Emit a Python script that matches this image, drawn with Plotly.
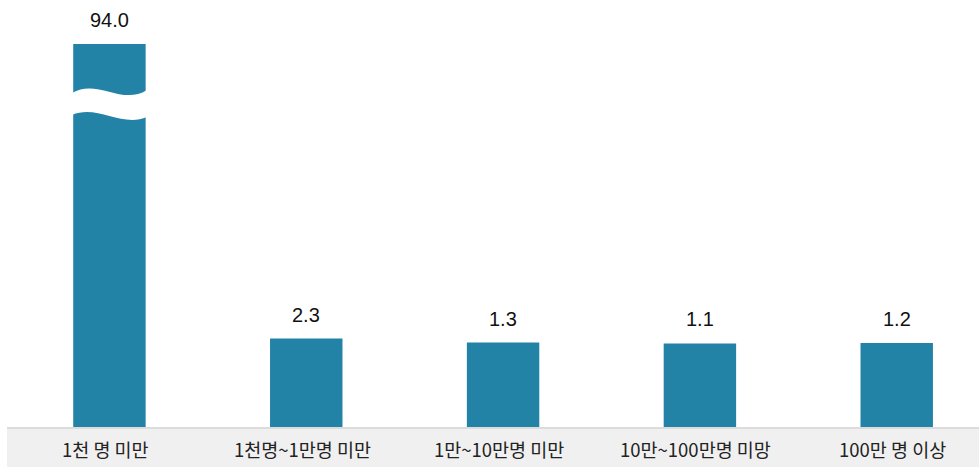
import plotly.graph_objects as go

# ---- data ----
categories = ["1천 명 미만", "1천명~1만명 미만", "1만~10만명 미만", "10만~100만명 미망", "100만 명 이상"]
values = [94.0, 2.3, 1.3, 1.1, 1.2]
value_labels = ["94.0", "2.3", "1.3", "1.1", "1.2"]

# ---- layout constants ----
W, H = 979, 467
M_T, M_B = 44, 40
Y_MIN, Y_MAX = -19.8, 75.95          # axis floor below zero (offset axis); tall bar is clipped (broken)
X_MIN, X_MAX = -0.556, 4.418
BAR_W = 0.368
BAR_COLOR = "#2383a7"

PLOT_H = H - M_T - M_B
x_pos = list(range(len(categories)))

def px2x(px):
    return X_MIN + px / W * (X_MAX - X_MIN)

def py2y(py):
    return Y_MIN + (H - M_B - py) / PLOT_H * (Y_MAX - Y_MIN)

fig = go.Figure()
# bars rise from the axis floor up to their value
fig.add_trace(go.Bar(
    x=x_pos,
    y=[v - Y_MIN for v in values],
    base=Y_MIN,
    width=BAR_W,
    marker=dict(color=BAR_COLOR, line=dict(width=0)),
    customdata=values,
    hovertemplate="%{customdata}<extra></extra>",
))

annotations = []
for i, (v, t) in enumerate(zip(values, value_labels)):
    annotations.append(dict(
        x=i, y=min(v, Y_MAX), xref="x", yref="y", text=t, showarrow=False,
        yanchor="bottom", yshift=11,
        font=dict(family="Liberation Sans, Arial, sans-serif", size=20, color="#111111"),
    ))
for i, c in enumerate(categories):
    annotations.append(dict(
        x=i, y=-(449 - (H - M_B)) / PLOT_H, xref="x", yref="paper", text=c, showarrow=False,
        yanchor="middle", xshift=-4,
        font=dict(family="Noto Sans CJK KR, sans-serif", size=18.5, color="#222222"),
    ))

# axis break symbol (white wave) across the clipped first bar
x0, x1 = px2x(72), px2x(147)
xc1, xc2 = px2x(97), px2x(122)
up = [py2y(93), py2y(78), py2y(106), py2y(90)]
lo = [py2y(115), py2y(104), py2y(128), py2y(117)]
wave = (f"M {x0},{up[0]} C {xc1},{up[1]} {xc2},{up[2]} {x1},{up[3]} "
        f"L {x1},{lo[3]} C {xc2},{lo[2]} {xc1},{lo[1]} {x0},{lo[0]} Z")

shapes = [
    dict(type="rect", xref="paper", yref="paper", x0=7 / W, x1=1, y0=-M_B / PLOT_H - 0.01, y1=0,
         fillcolor="#f0f0f0", line=dict(width=0), layer="below"),
    dict(type="line", xref="paper", yref="paper", x0=7 / W, x1=1, y0=-1.0 / PLOT_H, y1=-1.0 / PLOT_H,
         line=dict(color="#c8c8c8", width=1.2)),
    dict(type="path", xref="x", yref="y", path=wave, fillcolor="white", line=dict(width=0)),
]

fig.update_layout(
    width=W, height=H,
    margin=dict(l=0, r=0, t=M_T, b=M_B),
    paper_bgcolor="white", plot_bgcolor="white",
    showlegend=False,
    xaxis=dict(range=[X_MIN, X_MAX], showticklabels=False, showgrid=False, zeroline=False,
               showline=False, ticks=""),
    yaxis=dict(range=[Y_MIN, Y_MAX], showticklabels=False, showgrid=False, zeroline=False,
               showline=False, ticks=""),
    annotations=annotations,
    shapes=shapes,
)

fig.write_html(
    "out.html",
    config={"displayModeBar": False},
    post_script="document.body.style.margin='0';document.body.style.overflow='hidden';",
)
